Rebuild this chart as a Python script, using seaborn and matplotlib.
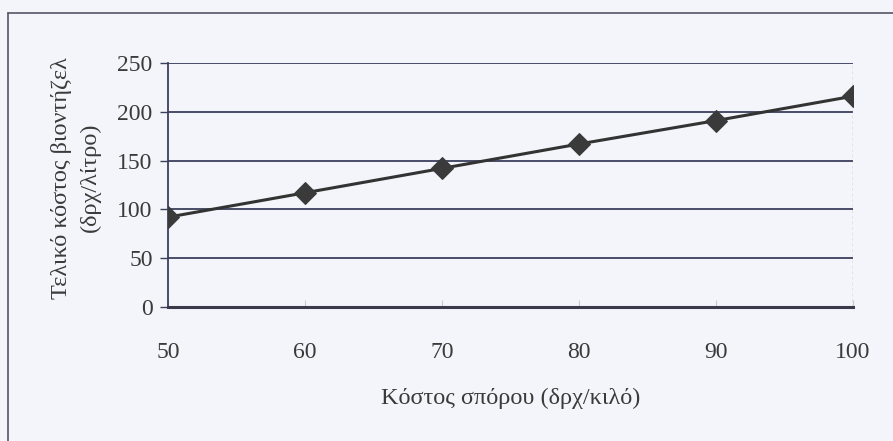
import matplotlib
matplotlib.use("Agg")
import matplotlib.pyplot as plt
from matplotlib.lines import Line2D
import seaborn as sns
import pandas as pd

# Seed cost (drachmas per kilo) and resulting biodiesel cost (drachmas per litre)
seed_cost = [50, 60, 70, 80, 90, 100]
biodiesel_cost = [92, 117, 142, 167, 191, 216]
y_ticks = [0, 50, 100, 150, 200, 250]
x_ticks = [50, 60, 70, 80, 90, 100]

x_label = "Κόστος σπόρου (δρχ/κιλό)"
y_label = "Τελικό κόστος βιοντήζελ\n(δρχ/λίτρο)"

df = pd.DataFrame({"seed": seed_cost, "cost": biodiesel_cost})

sns.set_theme(style="white")
plt.rcParams["font.family"] = ["Liberation Serif", "DejaVu Serif"]

bg = "#f3f5fa"
text_col = "#3a3a3a"
grid_col = "#3c3f5c"

fig = plt.figure(figsize=(8.93, 4.41), dpi=100, facecolor=bg)
ax = fig.add_axes([0.188, 0.304, 0.767, 0.553])
ax.set_facecolor(bg)

sns.lineplot(data=df, x="seed", y="cost", ax=ax, color="#333333",
             linewidth=2.2, marker="D", markersize=11,
             markerfacecolor="#3a3a3a", markeredgecolor="#3a3a3a", zorder=5)

ax.set_xlim(50, 100)
ax.set_ylim(0, 250)
ax.set_xticks(x_ticks)
ax.set_yticks(y_ticks)
ax.tick_params(axis="y", length=6, width=1, color=grid_col, pad=5,
               labelsize=17, labelcolor=text_col, left=True)
ax.tick_params(axis="x", length=5, width=0.8, color="#c8c8d0", pad=25,
               labelsize=17, labelcolor=text_col, direction="in", bottom=True)

# Horizontal gridlines (the zero line is the heavier bottom axis)
for v in y_ticks[1:]:
    ax.axhline(v, color=grid_col, linewidth=1.3, zorder=1)

for side in ["top", "right"]:
    ax.spines[side].set_visible(False)
ax.spines["left"].set_color(grid_col)
ax.spines["left"].set_linewidth(1.3)
ax.spines["bottom"].set_color("#3a3a4a")
ax.spines["bottom"].set_linewidth(2.2)
ax.axvline(100, color="#9a9aaa", linewidth=1, linestyle=(0, (2, 2)), zorder=1)

ax.set_xlabel(x_label, fontsize=17.5, color=text_col, labelpad=18)
ax.set_ylabel(y_label, fontsize=17.5, color=text_col, linespacing=1.45)
ax.yaxis.set_label_coords(-0.098, 0.53)

# Outer chart frame (top and left edges)
fig.add_artist(Line2D([0.009, 1.0], [0.970, 0.970], transform=fig.transFigure,
                      color="#555566", linewidth=1.2))
fig.add_artist(Line2D([0.009, 0.009], [0.0, 0.970], transform=fig.transFigure,
                      color="#555566", linewidth=1.2))

fig.savefig("out.png", dpi=100, facecolor=bg)
